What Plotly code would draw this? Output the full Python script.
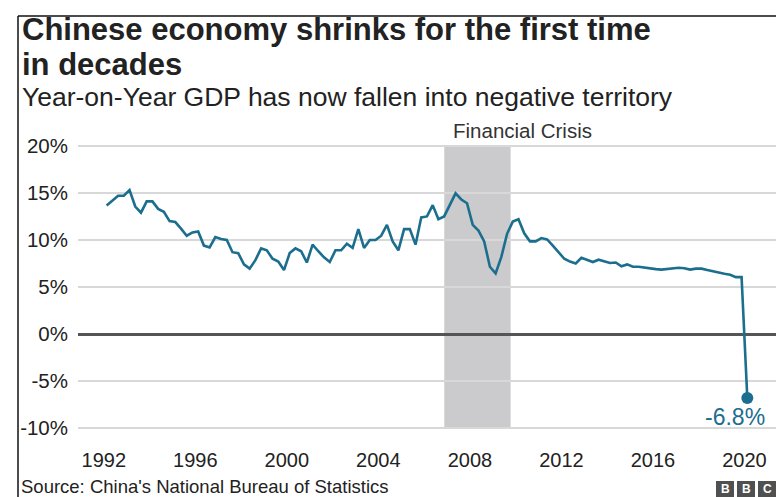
import plotly.graph_objects as go

# ---------------- data ----------------
first_year = 1992
gdp_growth = [
    13.65, 14.2, 14.7, 14.7,      # 1992
    15.3, 13.55, 12.9, 14.1,      # 1993
    14.1, 13.3, 13.0, 12.0,       # 1994
    11.9, 11.2, 10.45, 10.8,      # 1995
    10.9, 9.4, 9.2, 10.3,         # 1996
    10.1, 10.0, 8.7, 8.6,         # 1997
    7.4, 6.95, 7.85, 9.1,         # 1998
    8.9, 8.0, 7.7, 6.8,           # 1999
    8.6, 9.1, 8.8, 7.6,           # 2000
    9.5, 8.8, 8.15, 7.65,         # 2001
    8.9, 8.9, 9.6, 9.15,          # 2002
    11.15, 9.15, 10.0, 10.0,      # 2003
    10.45, 11.6, 9.85, 8.9,       # 2004
    11.15, 11.15, 9.5, 12.4,      # 2005
    12.5, 13.7, 12.2, 12.5,       # 2006
    13.8, 14.95, 14.3, 13.9,      # 2007
    11.6, 11.0, 9.85, 7.15,       # 2008
    6.45, 8.2, 10.65, 11.95,      # 2009
    12.2, 10.7, 9.85, 9.85,       # 2010
    10.2, 10.05, 9.4, 8.7,        # 2011
    8.0, 7.7, 7.5, 8.1,           # 2012
    7.9, 7.65, 7.9, 7.7,          # 2013
    7.55, 7.6, 7.2, 7.4,          # 2014
    7.15, 7.15, 7.05, 6.95,       # 2015
    6.9, 6.85, 6.9, 7.0,          # 2016
    7.05, 7.0, 6.85, 6.95,        # 2017
    6.95, 6.8, 6.65, 6.5,         # 2018
    6.4, 6.3, 6.05, 6.05,         # 2019
    -6.8,                          # 2020
]
quarter_labels = [f"{first_year + i // 4} Q{i % 4 + 1}" for i in range(len(gdp_growth))]
# mid-quarter positions on a decimal-year axis
quarter_x = [int(q[:4]) + (int(q[-1]) - 0.5) / 4 for q in quarter_labels]

x_tick_years = [1992, 1996, 2000, 2004, 2008, 2012, 2016, 2020]
y_tick_values = [-10, -5, 0, 5, 10, 15, 20]
y_tick_labels = ["-10%", "-5%", "0%", "5%", "10%", "15%", "20%"]

crisis_start, crisis_end = 2006.88, 2009.78
last_label = "-6.8%"

title_1 = "Chinese economy shrinks for the first time"
title_2 = "in decades"
subtitle = "Year-on-Year GDP has now fallen into negative territory"
source = "Source: China's National Bureau of Statistics"

# ---------------- styling ----------------
W, H = 776, 497
L, R, T, B = 78, 0, 143, 66
FONT = "Liberation Sans, Arial, sans-serif"
LINE_C = "#1c6e8e"
TXT = "#222222"


def px(xp):
    return (xp - L) / (W - L - R)


def py(yp):
    return (H - B - yp) / (H - T - B)


fig = go.Figure()
fig.add_trace(go.Scatter(
    x=quarter_x, y=gdp_growth, mode="lines",
    line=dict(color=LINE_C, width=2.6),
    hoverinfo="skip", showlegend=False,
))
fig.add_trace(go.Scatter(
    x=[quarter_x[-1]], y=[gdp_growth[-1]], mode="markers",
    marker=dict(color=LINE_C, size=12),
    hoverinfo="skip", showlegend=False,
))

shapes = [
    dict(type="rect", xref="x", yref="y", x0=crisis_start, x1=crisis_end,
         y0=-10, y1=20, fillcolor="#cbcbcd", line=dict(width=0), layer="below"),
    # frame
    dict(type="line", xref="paper", yref="paper", x0=px(18), x1=px(18),
         y0=py(16), y1=py(H), line=dict(color="#111", width=1.5)),
    dict(type="line", xref="paper", yref="paper", x0=px(18), x1=px(W),
         y0=py(16), y1=py(16), line=dict(color="#111", width=1.5)),
]
# BBC blocks
annotations = []
for i, letter in enumerate(["B", "B", "C"]):
    x0 = 716 + i * 21
    shapes.append(dict(type="rect", xref="paper", yref="paper",
                       x0=px(x0), x1=px(x0 + 18), y0=py(481), y1=py(497),
                       fillcolor="#505050", line=dict(width=0)))
    annotations.append(dict(xref="paper", yref="paper", x=px(x0 + 9), y=py(488.5),
                            text=f"<b>{letter}</b>", showarrow=False,
                            xanchor="center", yanchor="middle",
                            font=dict(family=FONT, size=12, color="white")))

annotations += [
    dict(xref="paper", yref="paper", x=px(20), y=py(29.5), text=f"<b>{title_1}</b>",
         showarrow=False, xanchor="left", yanchor="middle",
         font=dict(family=FONT, size=31, color=TXT)),
    dict(xref="paper", yref="paper", x=px(20), y=py(64), text=f"<b>{title_2}</b>",
         showarrow=False, xanchor="left", yanchor="middle",
         font=dict(family=FONT, size=31, color=TXT)),
    dict(xref="paper", yref="paper", x=px(20), y=py(97), text=subtitle,
         showarrow=False, xanchor="left", yanchor="middle",
         font=dict(family=FONT, size=26.5, color=TXT)),
    dict(xref="paper", yref="paper", x=px(19), y=py(486), text=source,
         showarrow=False, xanchor="left", yanchor="middle",
         font=dict(family=FONT, size=18.5, color=TXT)),
    dict(xref="x", yref="paper", x=crisis_start, y=py(131), text="Financial Crisis",
         showarrow=False, xanchor="left", yanchor="middle", xshift=7,
         font=dict(family=FONT, size=20.5, color="#333")),
    dict(xref="x", yref="y", x=quarter_x[-1], y=gdp_growth[-1], text=last_label,
         showarrow=False, xanchor="center", yanchor="middle", xshift=-12, yshift=-19,
         font=dict(family=FONT, size=23, color=LINE_C)),
]

x0_year = 1992 - (103.8 - L) / 22.88
x1_year = 1992 + (W - R - 103.8) / 22.88

fig.update_layout(
    width=W, height=H, autosize=False,
    margin=dict(l=L, r=R, t=T, b=B, pad=0),
    paper_bgcolor="white", plot_bgcolor="white",
    font=dict(family=FONT, color=TXT),
    showlegend=False,
    shapes=shapes, annotations=annotations,
    xaxis=dict(range=[x0_year, x1_year], tickvals=x_tick_years,
               ticktext=[str(y) for y in x_tick_years],
               showgrid=False, zeroline=False, showline=False, ticks="",
               tickfont=dict(family=FONT, size=20, color=TXT),
               ticklabelstandoff=15, fixedrange=True),
    yaxis=dict(range=[-10.3, 20.3], tickvals=y_tick_values, ticktext=y_tick_labels,
               showgrid=True, gridcolor="#d8d8d8", gridwidth=2,
               zeroline=True, zerolinecolor="#555555", zerolinewidth=2.5,
               showline=False, ticks="",
               tickfont=dict(family=FONT, size=20.5, color=TXT),
               ticklabelstandoff=9, fixedrange=True),
)

fig.write_html("out.html", config={"displayModeBar": False},
               post_script="document.body.style.margin='0px';")
